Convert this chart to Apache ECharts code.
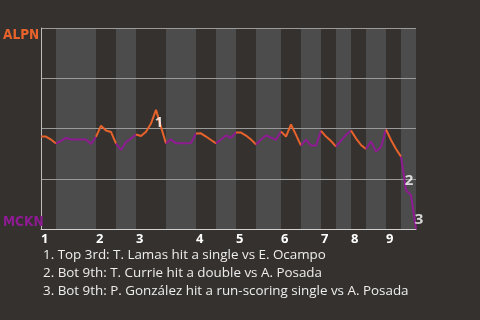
<!DOCTYPE html>
<html>
<head>
<meta charset="utf-8">
<script src="https://cdn.jsdelivr.net/npm/echarts@6/dist/echarts.min.js"></script>
<style>html,body{margin:0;padding:0;background:#34312e;}#c{width:480px;height:320px;}</style>
</head>
<body>
<div id="c"></div>
<script>
// ---- data ----
const teams = ['ALPN', 'MCKN'];
const innings = ['1','2','3','4','5','6','7','8','9'];
// plate appearances per half-inning (top 1, bottom 1, top 2, ...)
const halfPAs = [3,8,4,4,6,6,4,4,4,5,4,4,3,3,3,4,3,3];
// ALPN win probability (%) after each plate appearance (index 0 = first pitch)
const winProb = [
  46, 46, 44.5, 42.5, 43.8, 45.3, 44.5, 44.5, 44.5, 44.5, 42.3, 45.8,
  51.4, 49, 48.3, 42.5,
  39.3, 43.3, 45, 47,
  46.3, 48.4, 52.5, 59.3, 50.8, 42.5,
  44.6, 42.6, 42.6, 42.6, 42.8, 47.5,
  47.6, 46, 44.3, 42.6,
  44.5, 46.5, 45.4, 48,
  48, 46.5, 44.5, 42,
  44.5, 46.5, 45.5, 44.4, 48.5,
  46, 52, 46.8, 41.5,
  44.5, 41.5, 41.5, 48.8,
  46, 43.8, 41,
  44, 46.8, 49,
  45.1, 41.8, 39.8,
  43.5, 38.5, 40.8, 49.5,
  44.3, 39.8, 36,
  19.3, 16.8, 0
];
const notePA = [23, 73, 75];
const notes = [
  'Top 3rd: T. Lamas hit a single vs E. Ocampo',
  'Bot 9th: T. Currie hit a double vs A. Posada',
  'Bot 9th: P. González hit a run-scoring single vs A. Posada'
];

// ---- build ----
const ORANGE = '#e8632b', PURPLE = '#8e1b92';
const bounds = [0];
halfPAs.forEach(n => bounds.push(bounds[bounds.length - 1] + n));
const total = bounds[bounds.length - 1];
const inningStarts = innings.map((_, j) => bounds[2 * j]);

const series = [];
// bottom-half shading
series.push({
  type: 'line', data: [], z: 1, silent: true,
  markArea: {
    silent: true,
    itemStyle: { color: '#4c4c4c' },
    data: halfPAs.map((_, k) => k).filter(k => k % 2 === 1)
      .map(k => [{ xAxis: bounds[k] }, { xAxis: bounds[k + 1] }])
  }
});
halfPAs.forEach((n, k) => {
  const pts = [];
  for (let i = bounds[k]; i <= bounds[k + 1]; i++) pts.push([i, winProb[i] / 100]);
  series.push({
    type: 'line', data: pts, z: 3, symbol: 'none', silent: true,
    lineStyle: { color: k % 2 === 0 ? ORANGE : PURPLE, width: 2 }
  });
});
series.push({
  type: 'scatter', z: 4, symbolSize: 0, silent: true,
  data: notePA.map((pa, idx) => ({
    value: [pa, winProb[pa] / 100],
    label: { offset: winProb[pa] > winProb[pa - 1] ? [3, 13] : [3, -9] },
    name: String(idx + 1)
  })),
  label: {
    show: true, position: 'inside', formatter: p => p.name,
    color: '#ffffff', fontSize: 15, fontWeight: 'bold', fontFamily: 'Noto Sans'
  }
});

const teamFont = 'DejaVu Sans Condensed, Noto Sans';
const chart = echarts.init(document.getElementById('c'), null, { renderer: 'canvas' });
chart.setOption({
  backgroundColor: '#34312e',
  animation: false,
  grid: { left: 41, right: 64, top: 28, height: 201, containLabel: false },
  xAxis: {
    type: 'value', min: 0, max: total, z: 2,
    splitLine: { show: false },
    axisTick: { show: false },
    axisLine: { show: true, lineStyle: { color: '#d0d0d0', width: 1 } },
    axisLabel: {
      customValues: inningStarts, align: 'left', margin: 4,
      formatter: v => innings[inningStarts.indexOf(v)] || '',
      color: '#ffffff', fontSize: 13, fontWeight: 'bold', fontFamily: 'Noto Sans'
    }
  },
  yAxis: [{
    type: 'value', min: 0, max: 1, interval: 0.25, z: 2,
    axisLine: { show: true, lineStyle: { color: '#bdbdbd' } },
    axisTick: { show: false },
    splitLine: { show: true, lineStyle: { color: '#9a9a9a', width: 1 } },
    axisLabel: {
      customValues: [1], formatter: () => teams[0], align: 'left', verticalAlign: 'top',
      margin: 38, color: ORANGE, fontSize: 13.5, fontWeight: 'bold', fontFamily: teamFont
    }
  }, {
    type: 'value', min: 0, max: 1, position: 'left', z: 2,
    axisLine: { show: false }, axisTick: { show: false }, splitLine: { show: false },
    axisLabel: {
      customValues: [0], formatter: () => teams[1], align: 'left', verticalAlign: 'bottom',
      margin: 38, color: PURPLE, fontSize: 13.5, fontWeight: 'bold', fontFamily: teamFont
    }
  }],
  title: {
    text: notes.map((t, i) => (i + 1) + '. ' + t).join('\n'),
    left: 38, top: 241,
    textStyle: { color: '#eeeeee', fontSize: 13.4, fontWeight: 'normal', lineHeight: 18, fontFamily: 'Open Sans' }
  },
  series: series
});
</script>
</body>
</html>
